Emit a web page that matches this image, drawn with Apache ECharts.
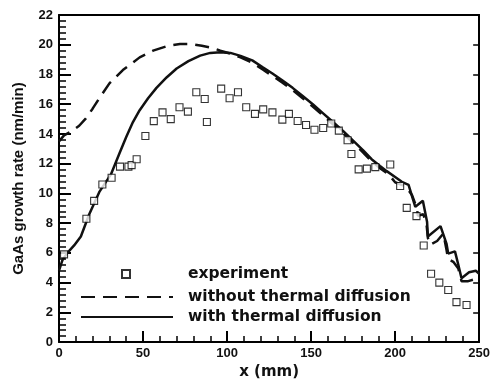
<!DOCTYPE html>
<html>
<head>
<meta charset="utf-8">
<script src="https://cdn.jsdelivr.net/npm/echarts@6/dist/echarts.min.js"></script>
<style>html,body{margin:0;padding:0;background:#fff}#c{width:493px;height:385px}</style>
</head>
<body>
<div id="c"></div>
<script>
// ---- data ----
var xTicks = [0, 50, 100, 150, 200, 250];
var yTicks = [0, 2, 4, 6, 8, 10, 12, 14, 16, 18, 20, 22];

var experiment = [
  [3,5.9],[16.3,8.3],[20.9,9.5],[25.8,10.6],[31.3,11.05],[36.3,11.8],[41.3,11.8],[43.2,11.9],
  [46.2,12.3],[51.4,13.86],[56.4,14.86],[61.6,15.45],[66.5,15.0],[71.7,15.8],[76.7,15.5],
  [81.7,16.8],[86.7,16.35],[88,14.8],[96.5,17.05],[101.5,16.4],[106.5,16.8],[111.4,15.8],
  [116.6,15.35],[121.5,15.65],[127,15.45],[132.9,14.96],[136.8,15.35],[142,14.87],[147,14.6],
  [152,14.28],[157.2,14.4],[162,14.7],[166.5,14.22],[171.7,13.58],[174,12.65],[178.3,11.62],
  [183.2,11.67],[188.2,11.77],[197.1,11.94],[203,10.5],[206.9,9.03],[212.7,8.47],[217,6.5],
  [221.4,4.6],[226.3,4.0],[231.6,3.5],[236.5,2.69],[242.5,2.5]
];

var withoutDiffusion = [
  [0,13.5],[3,13.9],[7,14.15],[12,14.55],[16,15.05],[20,15.7],[24,16.4],[30,17.4],[38,18.3],
  [48,19.15],[56,19.6],[65,19.93],[72,20.05],[78,20.05],[85,19.93],[91,19.8],[96,19.6],
  [102,19.4],[108,19.15],[115,18.8],[121,18.35],[127,17.9],[133,17.45],[139,16.95],[145,16.4],
  [151,15.85],[157,15.25],[163,14.65],[169,14.05],[175,13.4],[181,12.75],[186,12.15],
  [191,11.7],[196,11.3],[200,10.75],[206.5,10.45],[210,9.9],[213,9.0],[213.5,8.5],[216.8,8.6],
  [218.8,7.8],[219.5,7.0],[221,6.55],[225,6.8],[228.7,7.3],[230.6,6.2],[231.5,5.6],[234.6,5.4],
  [237.6,4.95],[239.5,4.1],[243.5,4.1],[246.5,4.2],[250,4.0]
];

var withDiffusion = [
  [0,4.8],[2,5.5],[5,6.0],[9,6.5],[13,7.1],[18,8.6],[24,10.1],[31,11.3],[36,12.7],[40,13.8],
  [44,14.8],[48,15.6],[53,16.4],[58,17.1],[64,17.8],[70,18.4],[77,18.9],[84,19.27],[90,19.45],
  [96,19.5],[102,19.45],[108,19.25],[115,18.95],[121,18.5],[127,18.07],[133,17.6],[139,17.1],
  [145,16.55],[151,16.0],[157,15.4],[163,14.8],[169,14.2],[175,13.55],[181,12.9],[186,12.3],
  [191,11.85],[195,11.5],[200,11.1],[204,10.78],[208,10.58],[210.9,9.5],[212,9.1],[216.5,9.5],
  [219,8.1],[219.5,7.1],[227,7.8],[230.6,6.6],[231.6,5.95],[235.6,6.1],[237.6,5.2],[239.5,4.3],
  [244,4.7],[248,4.8],[250,4.6]
];

var seriesNames = ['experiment', 'without thermal diffusion', 'with thermal diffusion'];
var xName = 'x (mm)';
var yName = 'GaAs growth rate (nm/min)';

// ---- chart ----
var chart = echarts.init(document.getElementById('c'));
var ink = '#000';
var tickFamily = 'Liberation Sans, Arial, sans-serif';
var legendFont = {color: '#111', fontFamily: 'DejaVu Sans, sans-serif', fontWeight: 'bold', fontSize: 15.5, lineHeight: 18};
var xMin = xTicks[0], xMax = xTicks[xTicks.length - 1], xStep = xTicks[1] - xTicks[0];
var yMin = yTicks[0], yMax = yTicks[yTicks.length - 1], yStep = yTicks[1] - yTicks[0];

chart.setOption({
  animation: false,
  grid: {left: 59, right: 12, top: 15, bottom: 34},
  xAxis: [
    {
      type: 'value', position: 'bottom', min: xMin, max: xMax, interval: xStep,
      axisLine: {show: true, onZero: false, lineStyle: {color: ink, width: 2}},
      axisTick: {show: true, inside: true, length: 11, lineStyle: {color: ink, width: 2}},
      minorTick: {show: true, splitNumber: 5, length: 6, lineStyle: {color: ink, width: 1.5}},
      axisLabel: {margin: 5, color: '#111', fontFamily: tickFamily, fontWeight: 'bold', fontSize: 13},
      splitLine: {show: false},
      name: xName, nameLocation: 'middle', nameGap: 20,
      nameTextStyle: {color: '#111', fontFamily: 'DejaVu Sans, sans-serif', fontWeight: 'bold', fontSize: 15}
    },
    {
      type: 'value', position: 'top', min: xMin, max: xMax, interval: xStep,
      axisLine: {show: true, onZero: false, lineStyle: {color: ink, width: 2}},
      axisTick: {show: false}, axisLabel: {show: false}, splitLine: {show: false}
    }
  ],
  yAxis: [
    {
      type: 'value', position: 'left', min: yMin, max: yMax, interval: yStep,
      axisLine: {show: true, onZero: false, lineStyle: {color: ink, width: 2}},
      axisTick: {show: true, inside: true, length: 12, lineStyle: {color: ink, width: 2}},
      minorTick: {show: true, splitNumber: 5, length: 7, lineStyle: {color: ink, width: 1.5}},
      axisLabel: {margin: 6, color: '#111', fontFamily: tickFamily, fontWeight: 'bold', fontSize: 13},
      splitLine: {show: false},
      name: yName, nameLocation: 'middle', nameGap: 33,
      nameTextStyle: {color: '#111', fontFamily: tickFamily, fontWeight: 'bold', fontSize: 15}
    },
    {
      type: 'value', position: 'right', min: yMin, max: yMax, interval: yStep,
      axisLine: {show: true, onZero: false, lineStyle: {color: ink, width: 2}},
      axisTick: {show: true, inside: true, length: 6, lineStyle: {color: ink, width: 1.5}},
      axisLabel: {show: false}, splitLine: {show: false}
    }
  ],
  legend: [
    {
      data: [seriesNames[0]], left: 121, top: 265, padding: 0,
      itemWidth: 8, itemHeight: 8,
      textStyle: Object.assign({}, legendFont, {padding: [0, 0, 0, 53]})
    },
    {
      data: [seriesNames[1], seriesNames[2]], orient: 'vertical', left: 80, top: 288, padding: 0,
      itemWidth: 92, itemHeight: 10, itemGap: 2,
      itemStyle: {color: 'rgba(0,0,0,0)', borderColor: 'rgba(0,0,0,0)', borderWidth: 0},
      textStyle: Object.assign({}, legendFont, {padding: [0, 0, 0, 10]})
    }
  ],
  series: [
    {
      name: seriesNames[0], type: 'scatter', data: experiment, symbol: 'rect', symbolSize: 7,
      itemStyle: {color: '#fff', borderColor: '#000', borderWidth: 1.1}, z: 3
    },
    {
      name: seriesNames[1], type: 'line', data: withoutDiffusion, symbol: 'none', smooth: false,
      lineStyle: {color: '#111', width: 2.5, type: [14, 8]}, itemStyle: {color: '#111'}, z: 2
    },
    {
      name: seriesNames[2], type: 'line', data: withDiffusion, symbol: 'none', smooth: false,
      lineStyle: {color: '#111', width: 2.5, type: 'solid'}, itemStyle: {color: '#111'}, z: 2
    }
  ]
});
</script>
</body>
</html>
